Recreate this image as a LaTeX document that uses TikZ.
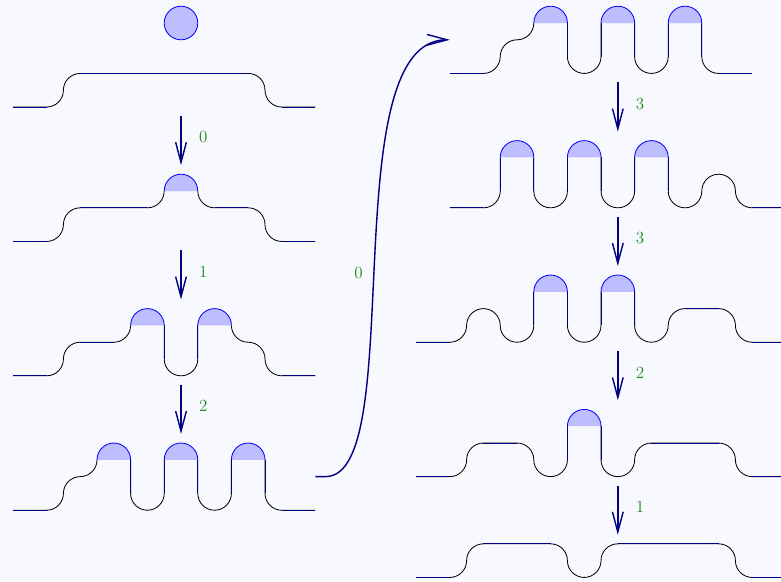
\documentclass[tikz,border=0pt]{standalone}
\usepackage{tikz}
\usetikzlibrary{arrows.meta}

\definecolor{paper}{RGB}{248,248,255}
\definecolor{navy}{RGB}{0,0,128}
\definecolor{capblue}{RGB}{190,190,255}
\definecolor{lblgreen}{RGB}{30,140,30}

\tikzset{
  rim/.style={black,line width=0.7pt,rounded corners=5mm},
  flatline/.style={navy,line width=0.7pt},
  fallarrow/.style={navy,line width=1.2pt,-{Straight Barb[length=6mm,width=3.2mm]}},
  lbl/.style={text=lblgreen,font=\Large},
  drop/.pic={
    \fill[capblue] (-0.5,0) arc[start angle=180,end angle=0,radius=0.5] -- cycle;
    \draw[blue,line width=0.7pt] (-0.5,0) arc[start angle=180,end angle=0,radius=0.5];
  }
}

\begin{document}
\begin{tikzpicture}
            \clip (-0.387,-14.107) rectangle (22.857,3.185);
            \fill[paper] (-0.387,-14.107) rectangle (22.857,3.185);

            % left column
            \draw[blue,line width=0.7pt,fill=capblue] (5,2.5) circle[radius=0.5];
            \draw[rim] (0,0) -- (1.5,0) -- (1.5,1) -- (7.5,1) -- (7.5,0) -- (9,0);
            \draw[flatline] (0,0) -- (1,0) (2,1) -- (7,1) (8,0) -- (9,0);

            \draw[rim] (0,-4) -- (1.5,-4) -- (1.5,-3) -- (4.5,-3) -- (4.5,-2.5)
                (5.5,-2.5) -- (5.5,-3) -- (7.5,-3) -- (7.5,-4) -- (9,-4);
            \draw[flatline] (0,-4) -- (1,-4) (2,-3) -- (4,-3) (6,-3) -- (7,-3) (8,-4) -- (9,-4);
            \pic at (5,-2.5) {drop};

            \draw[rim] (0,-8) -- (1.5,-8) -- (1.5,-7) -- (3.5,-7) -- (3.5,-6.5)
                (4.5,-6.5) -- (4.5,-8) -- (5.5,-8) -- (5.5,-6.5)
                (6.5,-6.5) -- (6.5,-7) -- (7.5,-7) -- (7.5,-8) -- (9,-8);
            \draw[flatline] (0,-8) -- (1,-8) (2,-7) -- (3,-7) (4.5,-6.5) -- (4.5,-7.5)
                (5.5,-7.5) -- (5.5,-6.5) (8,-8) -- (9,-8);
            \pic at (4,-6.5) {drop};
            \pic at (6,-6.5) {drop};

            \draw[rim] (0,-12) -- (1.5,-12) -- (1.5,-11) -- (2.5,-11) -- (2.5,-10.5)
                (3.5,-10.5) -- (3.5,-12) -- (4.5,-12) -- (4.5,-10.5)
                (5.5,-10.5) -- (5.5,-12) -- (6.5,-12) -- (6.5,-10.5)
                (7.5,-10.5) -- (7.5,-12) -- (9,-12);
            \draw[flatline] (0,-12) -- (1,-12) (3.5,-10.5) -- (3.5,-11.5) (4.5,-11.5) -- (4.5,-10.5)
                (5.5,-10.5) -- (5.5,-11.5) (6.5,-11.5) -- (6.5,-10.5) (7.5,-10.5) -- (7.5,-11.5)
                (8,-12) -- (9,-12);
            \pic at (3,-10.5) {drop};
            \pic at (5,-10.5) {drop};
            \pic at (7,-10.5) {drop};

            % right column
            \draw[rim] (13,1) -- (14.5,1) -- (14.5,2) -- (15.5,2) -- (15.5,2.5)
                (16.5,2.5) -- (16.5,1) -- (17.5,1) -- (17.5,2.5)
                (18.5,2.5) -- (18.5,1) -- (19.5,1) -- (19.5,2.5)
                (20.5,2.5) -- (20.5,1) -- (22,1);
            \draw[flatline] (13,1) -- (14,1) (16.5,2.5) -- (16.5,1.5) (17.5,1.5) -- (17.5,2.5)
                (18.5,2.5) -- (18.5,1.5) (19.5,1.5) -- (19.5,2.5) (20.5,2.5) -- (20.5,1.5)
                (21,1) -- (22,1);
            \pic at (16,2.5) {drop};
            \pic at (18,2.5) {drop};
            \pic at (20,2.5) {drop};

            \draw[rim] (13,-3) -- (14.5,-3) -- (14.5,-1.5)
                (15.5,-1.5) -- (15.5,-3) -- (16.5,-3) -- (16.5,-1.5)
                (17.5,-1.5) -- (17.5,-3) -- (18.5,-3) -- (18.5,-1.5)
                (19.5,-1.5) -- (19.5,-3) -- (20.5,-3) -- (20.5,-2) -- (21.5,-2) -- (21.5,-3) -- (23,-3);
            \draw[flatline] (13,-3) -- (14,-3) (14.5,-2.5) -- (14.5,-1.5) (15.5,-1.5) -- (15.5,-2.5)
                (16.5,-2.5) -- (16.5,-1.5) (17.5,-1.5) -- (17.5,-2.5) (18.5,-2.5) -- (18.5,-1.5)
                (19.5,-1.5) -- (19.5,-2.5) (22,-3) -- (23,-3);
            \pic at (15,-1.5) {drop};
            \pic at (17,-1.5) {drop};
            \pic at (19,-1.5) {drop};

            \draw[rim] (12,-7) -- (13.5,-7) -- (13.5,-6) -- (14.5,-6) -- (14.5,-7) -- (15.5,-7) -- (15.5,-5.5)
                (16.5,-5.5) -- (16.5,-7) -- (17.5,-7) -- (17.5,-5.5)
                (18.5,-5.5) -- (18.5,-7) -- (19.5,-7) -- (19.5,-6) -- (21.5,-6) -- (21.5,-7) -- (23,-7);
            \draw[flatline] (12,-7) -- (13,-7) (15.5,-6.5) -- (15.5,-5.5) (16.5,-5.5) -- (16.5,-6.5)
                (17.5,-6.5) -- (17.5,-5.5) (18.5,-5.5) -- (18.5,-6.5) (20,-6) -- (21,-6) (22,-7) -- (23,-7);
            \pic at (16,-5.5) {drop};
            \pic at (18,-5.5) {drop};

            \draw[rim] (12,-11) -- (13.5,-11) -- (13.5,-10) -- (15.5,-10) -- (15.5,-11) -- (16.5,-11) -- (16.5,-9.5)
                (17.5,-9.5) -- (17.5,-11) -- (18.5,-11) -- (18.5,-10) -- (21.5,-10) -- (21.5,-11) -- (23,-11);
            \draw[flatline] (12,-11) -- (13,-11) (14,-10) -- (15,-10) (16.5,-10.5) -- (16.5,-9.5)
                (17.5,-9.5) -- (17.5,-10.5) (19,-10) -- (21,-10) (22,-11) -- (23,-11);
            \pic at (17,-9.5) {drop};

            \draw[rim] (12,-14) -- (13.5,-14) -- (13.5,-13) -- (16.5,-13) -- (16.5,-14) -- (17.5,-14)
                -- (17.5,-13) -- (21.5,-13) -- (21.5,-14) -- (23,-14);
            \draw[flatline] (12,-14) -- (13,-14) (14,-13) -- (16,-13) (18,-13) -- (21,-13) (22,-14) -- (23,-14);

            % moves
            \coordinate (a0) at (5,-0.27);
            \coordinate (a1) at (5,-1.73);
            \coordinate (b0) at (5,-4.27);
            \coordinate (b1) at (5,-5.73);
            \coordinate (c0) at (5,-8.27);
            \coordinate (c1) at (5,-9.73);
            \coordinate (d0) at (18,0.73);
            \coordinate (d1) at (18,-0.73);
            \coordinate (e0) at (18,-3.27);
            \coordinate (e1) at (18,-4.73);
            \coordinate (f0) at (18,-7.27);
            \coordinate (f1) at (18,-8.73);
            \coordinate (g0) at (18,-11.27);
            \coordinate (g1) at (18,-12.73);
            \coordinate (src) at (9,-11);
            \coordinate (dst) at (13,2);

            \draw[fallarrow] (a0) -- node[lbl,right=4mm,pos=0.43] (na) {0} (a1);
            \draw[fallarrow] (b0) -- node[lbl,right=4mm,pos=0.43] (nb) {1} (b1);
            \draw[fallarrow] (c0) -- node[lbl,right=4mm,pos=0.43] (nc) {2} (c1);
            \draw[fallarrow] (d0) -- node[lbl,right=4mm,pos=0.43] (nd) {3} (d1);
            \draw[fallarrow] (e0) -- node[lbl,right=4mm,pos=0.43] (ne) {3} (e1);
            \draw[fallarrow] (f0) -- node[lbl,right=4mm,pos=0.43] (nf) {2} (f1);
            \draw[fallarrow] (g0) -- node[lbl,right=4mm,pos=0.43] (ng) {1} (g1);

            \draw[fallarrow] (src) -- ++(0.3,0) .. controls (11.8,-11) and (9.5,2) .. (dst);
            \node[lbl] (jump) at (10.28,-4.93) {0};
        \end{tikzpicture}
\end{document}
